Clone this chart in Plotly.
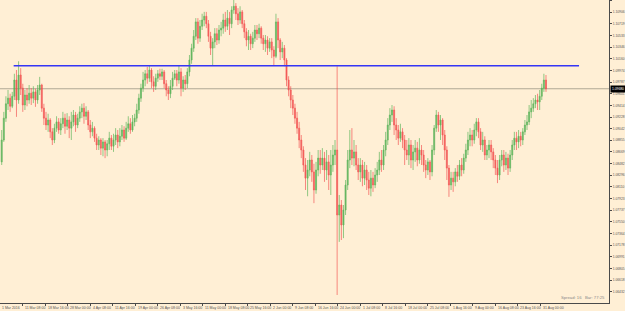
import plotly.graph_objects as go

# EURCHF-like H4 chart, resampled to 12-hour candles
opens = [
    1.0851, 1.0886, 1.0921, 1.0944, 1.0953, 1.0940, 1.0956, 1.0982, 1.0950, 1.0990,
    1.0969, 1.0942, 1.0958, 1.0950, 1.0961, 1.0953, 1.0963, 1.0950, 1.0966, 1.0974,
    1.0937, 1.0921, 1.0910, 1.0918, 1.0899, 1.0886, 1.0905, 1.0915, 1.0902, 1.0912,
    1.0921, 1.0908, 1.0918, 1.0905, 1.0915, 1.0926, 1.0910, 1.0921, 1.0931, 1.0937,
    1.0924, 1.0931, 1.0910, 1.0899, 1.0905, 1.0889, 1.0878, 1.0886, 1.0873, 1.0883,
    1.0870, 1.0880, 1.0889, 1.0876, 1.0886, 1.0894, 1.0883, 1.0892, 1.0902, 1.0889,
    1.0905, 1.0912, 1.0902, 1.0915, 1.0921, 1.0934, 1.0953, 1.0969, 1.0982, 1.0992,
    1.0985, 1.0998, 1.0979, 1.0972, 1.0985, 1.0992, 1.0988, 1.0995, 1.0976, 1.0966,
    1.0960, 1.0972, 1.0985, 1.0992, 1.0982, 1.0995, 1.0969, 1.0982, 1.0976, 1.0995,
    1.1014, 1.1033, 1.1052, 1.1075, 1.1049, 1.1068, 1.1078, 1.1084, 1.1072, 1.1052,
    1.1033, 1.1043, 1.1056, 1.1046, 1.1062, 1.1065, 1.1078, 1.1068, 1.1081, 1.1072,
    1.1094, 1.1100, 1.1088, 1.1078, 1.1091, 1.1072, 1.1059, 1.1046, 1.1052, 1.1040,
    1.1049, 1.1062, 1.1056, 1.1065, 1.1049, 1.1040, 1.1046, 1.1033, 1.1043, 1.1030,
    1.1020, 1.1075, 1.1046, 1.1027, 1.1033, 1.1014, 1.0982, 1.0966, 1.0950, 1.0937,
    1.0921, 1.0905, 1.0886, 1.0870, 1.0846, 1.0825, 1.0838, 1.0854, 1.0835, 1.0806,
    1.0838, 1.0857, 1.0846, 1.0857, 1.0838, 1.0851, 1.0830, 1.0846, 1.0862, 1.0870,
    1.0766, 1.0782, 1.0750, 1.0774, 1.0814, 1.0854, 1.0870, 1.0857, 1.0867, 1.0846,
    1.0835, 1.0846, 1.0825, 1.0838, 1.0822, 1.0809, 1.0825, 1.0814, 1.0830, 1.0838,
    1.0854, 1.0846, 1.0870, 1.0886, 1.0910, 1.0926, 1.0934, 1.0910, 1.0902, 1.0889,
    1.0899, 1.0886, 1.0870, 1.0862, 1.0878, 1.0854, 1.0867, 1.0873, 1.0854, 1.0870,
    1.0862, 1.0846, 1.0838, 1.0851, 1.0835, 1.0870, 1.0905, 1.0926, 1.0910, 1.0918,
    1.0894, 1.0870, 1.0841, 1.0814, 1.0825, 1.0819, 1.0835, 1.0828, 1.0846, 1.0838,
    1.0857, 1.0870, 1.0886, 1.0894, 1.0886, 1.0902, 1.0915, 1.0899, 1.0878, 1.0886,
    1.0862, 1.0870, 1.0878, 1.0867, 1.0854, 1.0841, 1.0830, 1.0854, 1.0862, 1.0846,
    1.0857, 1.0841, 1.0862, 1.0878, 1.0889, 1.0883, 1.0892, 1.0886, 1.0899, 1.0910,
    1.0915, 1.0931, 1.0937, 1.0944, 1.0950, 1.0947, 1.0956, 1.0969, 1.0982,
]

highs = [
    1.0902, 1.0931, 1.0956, 1.0966, 1.0960, 1.0963, 1.0992, 1.0998, 1.1012, 1.1001,
    1.0976, 1.0966, 1.0969, 1.0974, 1.0969, 1.0972, 1.0968, 1.0974, 1.0987, 1.0976,
    1.0944, 1.0931, 1.0928, 1.0921, 1.0905, 1.0912, 1.0924, 1.0921, 1.0921, 1.0931,
    1.0928, 1.0929, 1.0924, 1.0931, 1.0934, 1.0931, 1.0928, 1.0940, 1.0944, 1.0945,
    1.0940, 1.0934, 1.0918, 1.0915, 1.0908, 1.0896, 1.0892, 1.0889, 1.0889, 1.0886,
    1.0886, 1.0899, 1.0894, 1.0896, 1.0905, 1.0902, 1.0905, 1.0910, 1.0908, 1.0915,
    1.0924, 1.0921, 1.0926, 1.0928, 1.0944, 1.0960, 1.0976, 1.0995, 1.0998, 1.1003,
    1.1006, 1.1001, 1.0988, 1.0992, 1.0998, 1.1000, 1.1000, 1.0998, 1.0982, 1.0972,
    1.0982, 1.0995, 1.0998, 1.0998, 1.1006, 1.1001, 1.0988, 1.0990, 1.1001, 1.1022,
    1.1040, 1.1062, 1.1081, 1.1081, 1.1078, 1.1088, 1.1091, 1.1091, 1.1078, 1.1059,
    1.1049, 1.1065, 1.1065, 1.1070, 1.1075, 1.1088, 1.1091, 1.1094, 1.1091, 1.1100,
    1.1110, 1.1105, 1.1097, 1.1100, 1.1094, 1.1078, 1.1065, 1.1062, 1.1056, 1.1059,
    1.1070, 1.1070, 1.1072, 1.1068, 1.1054, 1.1054, 1.1052, 1.1049, 1.1049, 1.1036,
    1.1088, 1.1081, 1.1049, 1.1043, 1.1038, 1.1017, 1.0988, 1.0972, 1.0958, 1.0944,
    1.0931, 1.0915, 1.0894, 1.0876, 1.0857, 1.0854, 1.0867, 1.0862, 1.0848, 1.0851,
    1.0870, 1.0870, 1.0873, 1.0867, 1.0870, 1.0862, 1.0870, 1.0878, 1.0886, 1.1004,
    1.0798, 1.0790, 1.0782, 1.0822, 1.0870, 1.0902, 1.0905, 1.0886, 1.0878, 1.0857,
    1.0857, 1.0854, 1.0851, 1.0846, 1.0835, 1.0838, 1.0835, 1.0841, 1.0851, 1.0867,
    1.0870, 1.0878, 1.0899, 1.0921, 1.0937, 1.0942, 1.0940, 1.0921, 1.0910, 1.0912,
    1.0905, 1.0894, 1.0886, 1.0889, 1.0886, 1.0878, 1.0886, 1.0883, 1.0889, 1.0878,
    1.0870, 1.0854, 1.0857, 1.0854, 1.0878, 1.0910, 1.0934, 1.0931, 1.0926, 1.0921,
    1.0902, 1.0876, 1.0846, 1.0835, 1.0835, 1.0841, 1.0846, 1.0854, 1.0857, 1.0864,
    1.0880, 1.0899, 1.0905, 1.0902, 1.0912, 1.0921, 1.0921, 1.0905, 1.0899, 1.0892,
    1.0878, 1.0886, 1.0886, 1.0873, 1.0862, 1.0854, 1.0862, 1.0870, 1.0870, 1.0867,
    1.0864, 1.0870, 1.0886, 1.0899, 1.0899, 1.0902, 1.0899, 1.0905, 1.0918, 1.0926,
    1.0942, 1.0950, 1.0953, 1.0958, 1.0960, 1.0966, 1.0976, 1.0992, 1.0990,
]

lows = [
    1.0846, 1.0883, 1.0915, 1.0934, 1.0931, 1.0937, 1.0950, 1.0923, 1.0944, 1.0958,
    1.0931, 1.0934, 1.0940, 1.0944, 1.0942, 1.0945, 1.0939, 1.0944, 1.0958, 1.0931,
    1.0910, 1.0902, 1.0899, 1.0889, 1.0878, 1.0881, 1.0899, 1.0896, 1.0894, 1.0905,
    1.0896, 1.0902, 1.0889, 1.0886, 1.0908, 1.0899, 1.0905, 1.0915, 1.0921, 1.0912,
    1.0918, 1.0902, 1.0889, 1.0892, 1.0883, 1.0870, 1.0870, 1.0862, 1.0860, 1.0857,
    1.0860, 1.0870, 1.0870, 1.0867, 1.0878, 1.0873, 1.0876, 1.0886, 1.0883, 1.0886,
    1.0899, 1.0896, 1.0899, 1.0908, 1.0915, 1.0928, 1.0947, 1.0963, 1.0972, 1.0976,
    1.0979, 1.0969, 1.0963, 1.0966, 1.0979, 1.0982, 1.0982, 1.0969, 1.0956, 1.0950,
    1.0953, 1.0966, 1.0982, 1.0972, 1.0976, 1.0956, 1.0963, 1.0966, 1.0969, 1.0988,
    1.1008, 1.1027, 1.1046, 1.1040, 1.1043, 1.1062, 1.1068, 1.1065, 1.1043, 1.1022,
    1.1006, 1.1033, 1.1038, 1.1040, 1.1052, 1.1056, 1.1059, 1.1062, 1.1054, 1.1065,
    1.1088, 1.1078, 1.1070, 1.1072, 1.1065, 1.1049, 1.1036, 1.1030, 1.1030, 1.1033,
    1.1043, 1.1046, 1.1049, 1.1040, 1.1030, 1.1027, 1.1022, 1.1027, 1.1017, 1.1006,
    1.1017, 1.1033, 1.1014, 1.1017, 1.1004, 1.0972, 1.0956, 1.0937, 1.0926, 1.0912,
    1.0896, 1.0873, 1.0857, 1.0835, 1.0806, 1.0796, 1.0828, 1.0819, 1.0785, 1.0800,
    1.0828, 1.0832, 1.0838, 1.0819, 1.0822, 1.0806, 1.0798, 1.0835, 1.0846, 1.0638,
    1.0723, 1.0726, 1.0729, 1.0766, 1.0806, 1.0841, 1.0846, 1.0844, 1.0838, 1.0822,
    1.0819, 1.0812, 1.0814, 1.0806, 1.0798, 1.0796, 1.0803, 1.0809, 1.0819, 1.0830,
    1.0835, 1.0838, 1.0860, 1.0878, 1.0902, 1.0915, 1.0894, 1.0886, 1.0878, 1.0883,
    1.0873, 1.0846, 1.0854, 1.0846, 1.0841, 1.0838, 1.0851, 1.0844, 1.0848, 1.0846,
    1.0835, 1.0825, 1.0830, 1.0822, 1.0828, 1.0862, 1.0899, 1.0899, 1.0886, 1.0878,
    1.0854, 1.0822, 1.0795, 1.0806, 1.0803, 1.0812, 1.0819, 1.0822, 1.0828, 1.0832,
    1.0851, 1.0862, 1.0876, 1.0876, 1.0880, 1.0892, 1.0889, 1.0870, 1.0867, 1.0854,
    1.0854, 1.0857, 1.0854, 1.0841, 1.0830, 1.0817, 1.0822, 1.0844, 1.0835, 1.0838,
    1.0830, 1.0835, 1.0854, 1.0870, 1.0870, 1.0873, 1.0876, 1.0878, 1.0894, 1.0902,
    1.0910, 1.0921, 1.0931, 1.0937, 1.0934, 1.0934, 1.0950, 1.0963, 1.0963,
]

closes = [
    1.0886, 1.0921, 1.0944, 1.0953, 1.0940, 1.0956, 1.0982, 1.0950, 1.0990, 1.0969,
    1.0942, 1.0958, 1.0950, 1.0961, 1.0953, 1.0963, 1.0950, 1.0966, 1.0974, 1.0937,
    1.0921, 1.0910, 1.0918, 1.0899, 1.0886, 1.0905, 1.0915, 1.0902, 1.0912, 1.0921,
    1.0908, 1.0918, 1.0905, 1.0915, 1.0926, 1.0910, 1.0921, 1.0931, 1.0937, 1.0924,
    1.0931, 1.0910, 1.0899, 1.0905, 1.0889, 1.0878, 1.0886, 1.0873, 1.0883, 1.0870,
    1.0880, 1.0889, 1.0876, 1.0886, 1.0894, 1.0883, 1.0892, 1.0902, 1.0889, 1.0905,
    1.0912, 1.0902, 1.0915, 1.0921, 1.0934, 1.0953, 1.0969, 1.0982, 1.0992, 1.0985,
    1.0998, 1.0979, 1.0972, 1.0985, 1.0992, 1.0988, 1.0995, 1.0976, 1.0966, 1.0960,
    1.0972, 1.0985, 1.0992, 1.0982, 1.0995, 1.0969, 1.0982, 1.0976, 1.0995, 1.1014,
    1.1033, 1.1052, 1.1075, 1.1049, 1.1068, 1.1078, 1.1084, 1.1072, 1.1052, 1.1033,
    1.1043, 1.1056, 1.1046, 1.1062, 1.1065, 1.1078, 1.1068, 1.1081, 1.1072, 1.1094,
    1.1100, 1.1088, 1.1078, 1.1091, 1.1072, 1.1059, 1.1046, 1.1052, 1.1040, 1.1049,
    1.1062, 1.1056, 1.1065, 1.1049, 1.1040, 1.1046, 1.1033, 1.1043, 1.1030, 1.1020,
    1.1075, 1.1046, 1.1027, 1.1033, 1.1014, 1.0982, 1.0966, 1.0950, 1.0937, 1.0921,
    1.0905, 1.0886, 1.0870, 1.0846, 1.0825, 1.0838, 1.0854, 1.0835, 1.0806, 1.0838,
    1.0857, 1.0846, 1.0857, 1.0838, 1.0851, 1.0830, 1.0846, 1.0862, 1.0870, 1.0766,
    1.0782, 1.0750, 1.0774, 1.0814, 1.0854, 1.0870, 1.0857, 1.0867, 1.0846, 1.0835,
    1.0846, 1.0825, 1.0838, 1.0822, 1.0809, 1.0825, 1.0814, 1.0830, 1.0838, 1.0854,
    1.0846, 1.0870, 1.0886, 1.0910, 1.0926, 1.0934, 1.0910, 1.0902, 1.0889, 1.0899,
    1.0886, 1.0870, 1.0862, 1.0878, 1.0854, 1.0867, 1.0873, 1.0854, 1.0870, 1.0862,
    1.0846, 1.0838, 1.0851, 1.0835, 1.0870, 1.0905, 1.0926, 1.0910, 1.0918, 1.0894,
    1.0870, 1.0841, 1.0814, 1.0825, 1.0819, 1.0835, 1.0828, 1.0846, 1.0838, 1.0857,
    1.0870, 1.0886, 1.0894, 1.0886, 1.0902, 1.0915, 1.0899, 1.0878, 1.0886, 1.0862,
    1.0870, 1.0878, 1.0867, 1.0854, 1.0841, 1.0830, 1.0854, 1.0862, 1.0846, 1.0857,
    1.0841, 1.0862, 1.0878, 1.0889, 1.0883, 1.0892, 1.0886, 1.0899, 1.0910, 1.0915,
    1.0931, 1.0937, 1.0944, 1.0950, 1.0947, 1.0956, 1.0969, 1.0982, 1.0968,
]

# time-axis labels (every 32 H4 bars) and the first-bar date label
first_label = "1 Mar 2016"
date_labels = [
    "11 Mar 08:00", "18 Mar 16:00", "28 Mar 00:00", "4 Apr 08:00", "11 Apr 16:00",
    "19 Apr 00:00", "26 Apr 08:00", "3 May 16:00", "11 May 00:00", "18 May 08:00",
    "25 May 16:00", "2 Jun 00:00", "9 Jun 08:00", "16 Jun 16:00", "24 Jun 00:00",
    "1 Jul 08:00", "8 Jul 16:00", "18 Jul 00:00", "25 Jul 08:00", "1 Aug 16:00",
    "9 Aug 00:00", "16 Aug 08:00", "23 Aug 16:00", "31 Aug 00:00",
]

# horizontal resistance level drawn on the chart (price, start bar, end bar in H4 bars)
resistance_level = 1.1005
resistance_start_bar = 18
resistance_end_bar = 822

status_text = "Spread:\u00a016\u00a0\u00a0\u00a0Bar:\u00a077:25"

BG = "#ffefd5"
GREEN = "#52b052"
RED = "#f24a4a"
AXIS = "#4a4a4a"
TXT = "#555555"
FONT = "Liberation Sans"

n = min(len(opens), len(highs), len(lows), len(closes))
bars_per_candle = 3  # 12h candles built from H4 bars
x_pos = [bars_per_candle * j + 1 for j in range(n)]

first_tick_bar = 31
bars_per_label = 32
tick_bars = [first_tick_bar + bars_per_label * k for k in range(len(date_labels))]
x_left, x_right = -1.42, 864.6

fig = go.Figure()
fig.add_trace(go.Candlestick(
    x=x_pos, open=opens[:n], high=highs[:n], low=lows[:n], close=closes[:n],
    increasing=dict(line=dict(color=GREEN, width=0.7), fillcolor=GREEN),
    decreasing=dict(line=dict(color=RED, width=0.7), fillcolor=RED),
    whiskerwidth=0, showlegend=False, hoverinfo="skip", opacity=0.9,
))

# current price line
fig.add_shape(type="line", xref="paper", yref="y", x0=0, x1=1,
              y0=closes[n - 1], y1=closes[n - 1],
              line=dict(color="#b0a995", width=1), layer="below")
# resistance line
fig.add_shape(type="line", xref="x", yref="y",
              x0=resistance_start_bar, x1=resistance_end_bar,
              y0=resistance_level, y1=resistance_level,
              line=dict(color="#3535f5", width=1.5))

# x labels, left-aligned at their ticks like MT4
fig.add_annotation(x=x_left, y=0, xref="x", yref="paper", text=first_label,
                   xanchor="left", yanchor="top", showarrow=False, yshift=-0.5,
                   font=dict(size=3.5, color=TXT, family=FONT))
for tb, lab in zip(tick_bars, date_labels):
    fig.add_annotation(x=tb, y=0, xref="x", yref="paper", text=lab,
                       xanchor="left", yanchor="top", showarrow=False,
                       xshift=0.5, yshift=-0.5,
                       font=dict(size=3.5, color=TXT, family=FONT))

# current price tag on the price axis
fig.add_annotation(x=1, y=closes[n - 1], xref="paper", yref="y",
                   text=f"{closes[n - 1]:.5f}", xanchor="left", yanchor="middle",
                   showarrow=False, bgcolor="#000000", borderpad=1, xshift=0.5,
                   font=dict(size=3.3, color="#ffffff", family=FONT))

# status text
fig.add_annotation(x=1, y=0, xref="paper", yref="paper", text=status_text,
                   xanchor="right", yanchor="bottom", showarrow=False,
                   xshift=-2, yshift=1,
                   font=dict(size=4.2, color="#8a8a8a", family=FONT))

fig.update_layout(
    width=625, height=311,
    margin=dict(l=0, r=16, t=0, b=8),
    paper_bgcolor=BG, plot_bgcolor=BG,
    showlegend=False,
    xaxis=dict(
        range=[x_left, x_right], rangeslider=dict(visible=False),
        showgrid=False, zeroline=False, showline=True, linecolor=AXIS, linewidth=1,
        ticks="outside", ticklen=2, tickcolor=AXIS, tickvals=tick_bars,
        showticklabels=False, automargin=False, fixedrange=True,
    ),
    yaxis=dict(
        side="right", range=[1.06252, 1.1110],
        showgrid=False, zeroline=False, showline=True, linecolor=AXIS, linewidth=1,
        ticks="outside", ticklen=2, tickcolor=AXIS,
        tick0=1.11092, dtick=0.001864, tickformat=".5f",
        tickfont=dict(size=3.3, color=TXT, family=FONT),
        automargin=False, fixedrange=True,
    ),
)

fig.write_html("out.html")
